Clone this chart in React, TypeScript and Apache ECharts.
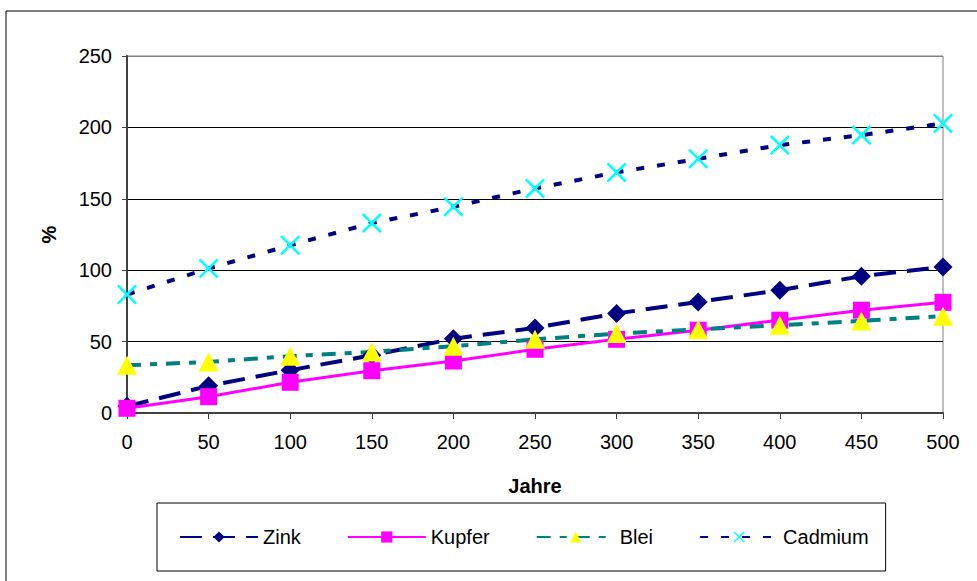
import React, { useEffect, useRef } from "react";
import * as echarts from "echarts";

const years = ["0", "50", "100", "150", "200", "250", "300", "350", "400", "450", "500"];
const zink = [4.7, 19, 30, 40.4, 52, 59.6, 69.7, 77.8, 86, 95.8, 102.3];
const kupfer = [3.3, 11.4, 21.5, 29.6, 36.4, 44.6, 51.6, 58, 65, 72, 77.5];
const blei = [33.4, 35.8, 39.8, 42.8, 46.8, 51.6, 55.6, 58.5, 61.5, 64.5, 67.8];
const cadmium = [83, 101.2, 117.5, 133, 144.4, 157.3, 168.5, 178, 187.6, 194.6, 202.8];

const FONT = "'Liberation Sans', Arial, sans-serif";
const X_PATH =
  "path://M0,1.8 L1.8,0 L10,8.2 L18.2,0 L20,1.8 L11.8,10 L20,18.2 L18.2,20 L10,11.8 L1.8,20 L0,18.2 L8.2,10 Z";

export default function App() {
  const ref = useRef<HTMLDivElement>(null);
  useEffect(() => {
    if (!ref.current) return;
    const chart = echarts.init(ref.current, undefined, { renderer: "svg" });
    chart.setOption({
      animation: false,
      backgroundColor: "#fff",
      textStyle: { fontFamily: FONT },
      graphic: [
        {
          type: "rect",
          shape: { x: 6, y: 11, width: 1000, height: 600 },
          style: { fill: "none", stroke: "#000", lineWidth: 1 },
          silent: true,
        },
      ],
      grid: {
        left: 127,
        right: 34,
        top: 56,
        bottom: 168,
        show: true,
        borderColor: "#808080",
        borderWidth: 1,
        backgroundColor: "transparent",
      },
      legend: {
        left: 157,
        top: 503,
        padding: [24, 17, 24, 22],
        borderColor: "#000",
        borderWidth: 1,
        backgroundColor: "#fff",
        itemWidth: 78,
        itemHeight: 14,
        itemGap: 46,
        textStyle: { fontFamily: FONT, fontSize: 20, color: "#000" },
        data: ["Zink", "Kupfer", "Blei", "Cadmium"],
      },
      xAxis: {
        type: "category",
        data: years,
        boundaryGap: false,
        name: "Jahre",
        nameLocation: "middle",
        nameGap: 63,
        nameTextStyle: { fontFamily: FONT, fontSize: 20, fontWeight: "bold", color: "#000" },
        axisLine: { lineStyle: { color: "#404040", width: 2 } },
        axisTick: { show: true, length: 6, lineStyle: { color: "#404040", width: 1 } },
        axisLabel: { fontFamily: FONT, fontSize: 20, color: "#000", margin: 19 },
        splitLine: { show: false },
      },
      yAxis: {
        type: "value",
        min: 0,
        max: 250,
        interval: 50,
        name: "%",
        nameLocation: "middle",
        nameRotate: 90,
        nameGap: 68,
        nameTextStyle: { fontFamily: FONT, fontSize: 20, fontWeight: "bold", color: "#000" },
        axisLine: { show: true, lineStyle: { color: "#404040", width: 2 } },
        axisTick: { show: true, length: 5, lineStyle: { color: "#404040", width: 1 } },
        axisLabel: { fontFamily: FONT, fontSize: 20, color: "#000", margin: 15 },
        splitLine: {
          show: true,
          lineStyle: { color: ["#000", "#000", "#000", "#000", "#000", "#808080"], width: 1 },
        },
      },
      series: [
        {
          name: "Zink",
          type: "line",
          data: zink,
          symbol: "diamond",
          symbolSize: 19,
          lineStyle: { color: "#000080", width: 4, type: [22, 11] },
          itemStyle: { color: "#000080" },
        },
        {
          name: "Kupfer",
          type: "line",
          data: kupfer,
          symbol: "rect",
          symbolSize: 17,
          lineStyle: { color: "#FF00FF", width: 3, type: "solid" },
          itemStyle: { color: "#FF00FF" },
        },
        {
          name: "Blei",
          type: "line",
          data: blei,
          symbol: "triangle",
          symbolSize: [20, 19],
          lineStyle: { color: "#008080", width: 4, type: [14, 9, 7, 9] },
          itemStyle: { color: "#FFFF00" },
        },
        {
          name: "Cadmium",
          type: "line",
          data: cadmium,
          symbol: X_PATH,
          symbolSize: 20,
          lineStyle: { color: "#000080", width: 4, type: [8, 13] },
          itemStyle: { color: "#00FFFF" },
        },
      ],
    });
    return () => chart.dispose();
  }, []);
  return (
    <div
      ref={ref}
      style={{ position: "fixed", left: 0, top: 0, width: 977, height: 581 }}
    />
  );
}
